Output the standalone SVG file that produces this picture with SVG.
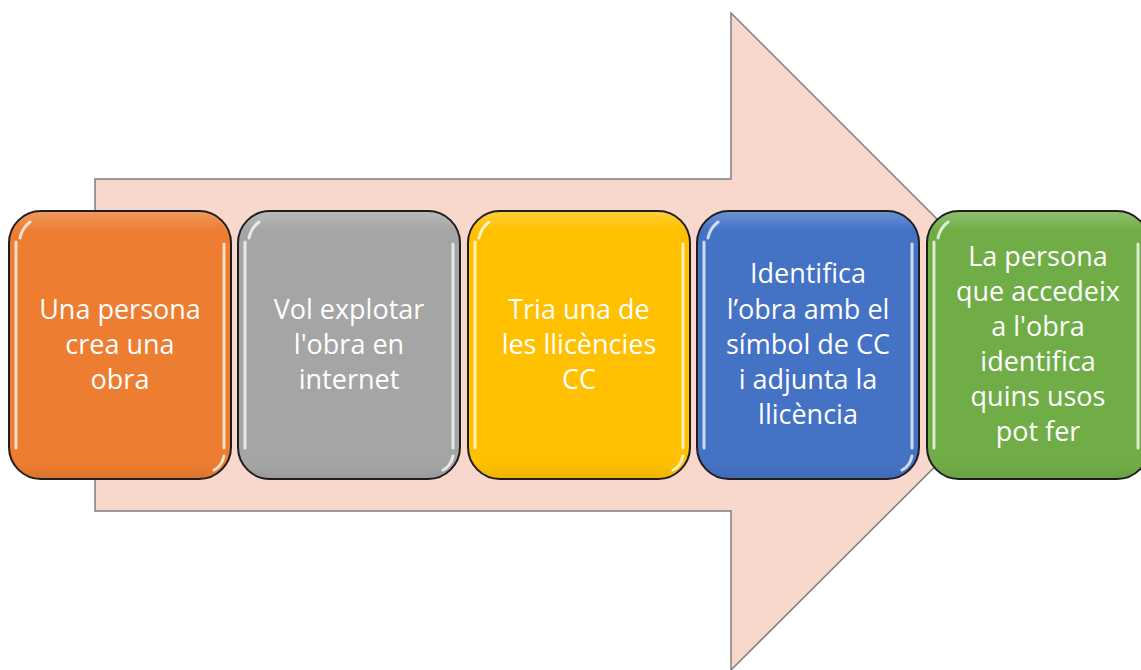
<svg xmlns="http://www.w3.org/2000/svg" width="1141" height="670" viewBox="0 0 1141 670">
<defs>
<style>
.box{stroke:#1e1e1e;stroke-width:2}
.hl{fill:none;stroke:#ffffff;stroke-width:3;stroke-linecap:round;opacity:0.75}
.lbl{font-family:"Open Sans",Lato,"Liberation Sans",sans-serif;font-size:27px;fill:#ffffff;text-anchor:middle;font-variant-ligatures:none}
</style>
<linearGradient id="edge" x1="0" y1="0" x2="0" y2="1">
<stop offset="0" stop-color="#ffffff" stop-opacity="0.22"/>
<stop offset="0.07" stop-color="#ffffff" stop-opacity="0"/>
<stop offset="0.94" stop-color="#000000" stop-opacity="0"/>
<stop offset="1" stop-color="#000000" stop-opacity="0.06"/>
</linearGradient>
</defs>
<rect width="1141" height="670" fill="#ffffff"/>
<g id="arrow">
<polygon points="95,179 731,179 731,13 1060,342 731,670 731,511 95,511" fill="#f8d7cd" stroke="#7f7f7f" stroke-width="1.5"/>
</g>
<g id="connectors"></g>
<g id="node1">
<rect class="box" x="9" y="211" width="222" height="268" rx="32" fill="#ed7d31"/>
<rect x="10" y="212" width="220" height="266" rx="31" fill="url(#edge)"/>
<path class="hl" d="M16,242 L16,448 M20,238 Q22,228 30,222 M224,244 L224,448 M224,456 Q222,466 214,470"/>
<text class="lbl" x="120" y="319">Una persona</text>
<text class="lbl" x="120" y="354">crea una</text>
<text class="lbl" x="120" y="389">obra</text>
</g>
<g id="node2">
<rect class="box" x="238" y="211" width="222" height="268" rx="32" fill="#a5a5a5"/>
<rect x="239" y="212" width="220" height="266" rx="31" fill="url(#edge)"/>
<path class="hl" d="M245,242 L245,448 M249,238 Q251,228 259,222 M453,244 L453,448 M453,456 Q451,466 443,470"/>
<text class="lbl" x="349" y="319">Vol explotar</text>
<text class="lbl" x="349" y="354">l'obra en</text>
<text class="lbl" x="349" y="389">internet</text>
</g>
<g id="node3">
<rect class="box" x="468" y="211" width="222" height="268" rx="32" fill="#ffc000"/>
<rect x="469" y="212" width="220" height="266" rx="31" fill="url(#edge)"/>
<path class="hl" d="M475,242 L475,448 M479,238 Q481,228 489,222 M683,244 L683,448 M683,456 Q681,466 673,470"/>
<text class="lbl" x="579" y="319">Tria una de</text>
<text class="lbl" x="579" y="354">les llicències</text>
<text class="lbl" x="579" y="389">CC</text>
</g>
<g id="node4">
<rect class="box" x="697" y="211" width="222" height="268" rx="32" fill="#4472c4"/>
<rect x="698" y="212" width="220" height="266" rx="31" fill="url(#edge)"/>
<path class="hl" d="M704,242 L704,448 M708,238 Q710,228 718,222 M912,244 L912,448 M912,456 Q910,466 902,470"/>
<text class="lbl" x="808" y="283">Identifica</text>
<text class="lbl" x="808" y="319">l’obra amb el</text>
<text class="lbl" x="808" y="354">símbol de CC</text>
<text class="lbl" x="808" y="389">i adjunta la</text>
<text class="lbl" x="808" y="424">llicència</text>
</g>
<g id="node5">
<rect class="box" x="927" y="211" width="222" height="268" rx="32" fill="#70ad47"/>
<rect x="928" y="212" width="220" height="266" rx="31" fill="url(#edge)"/>
<path class="hl" d="M934,242 L934,448 M938,238 Q940,228 948,222 M1138,244 L1138,448"/>
<text class="lbl" x="1038" y="266">La persona</text>
<text class="lbl" x="1038" y="301">que accedeix</text>
<text class="lbl" x="1038" y="336">a l'obra</text>
<text class="lbl" x="1038" y="371">identifica</text>
<text class="lbl" x="1038" y="406">quins usos</text>
<text class="lbl" x="1038" y="441">pot fer</text>
</g>
</svg>
